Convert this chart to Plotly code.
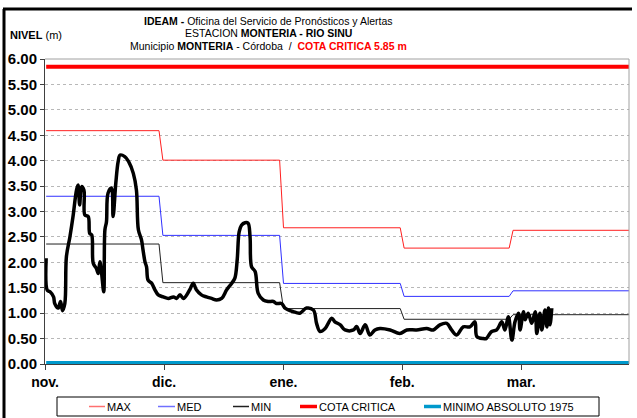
import plotly.graph_objects as go

# ---- data -----------------------------------------------------------------
# days counted from 1 November; monthly statistics (m)
month_labels = ["nov.", "dic.", "ene.", "feb.", "mar."]
month_tick_day = [-0.3, 30.3, 61.0, 91.5, 122.1]
month_first_day = [0, 30, 61, 92, 120]
month_last_day = [29, 60, 91, 119, 150]
nivel_max = [4.59, 4.01, 2.68, 2.28, 2.63]
nivel_med = [3.30, 2.53, 1.585, 1.33, 1.44]
nivel_min = [2.36, 1.60, 1.09, 0.88, 0.97]

cota_critica = 5.85
minimo_absoluto_1975 = 0.02

# observed daily level (day, m)
level_day = [
    0, 0.3, 1, 1.9, 2.2, 3.1, 3.7, 4.2, 4.8, 5.2,
    6.1, 6.9, 7.8, 8.2, 8.6, 9.1, 9.7, 9.95, 10.8, 11.2,
    11.7, 12.1, 12.9, 13.4, 13.8, 14.2, 14.8, 15.1, 15.5, 15.9,
    16.8, 17.2, 17.9, 18.5, 19, 20.2, 21.2, 22.4, 23.2, 23.7,
    24.5, 24.9, 25.4, 25.8, 26.2, 27.1, 27.95, 28.8, 30.1, 31.4,
    32.7, 33.5, 34.4, 35.3, 36.9, 37.8, 38.6, 39.9, 41.2, 42.5,
    43.8, 45.1, 46.4, 47.7, 48.5, 49.1, 49.6, 50.2, 51.1, 51.9,
    52.4, 52.8, 53.7, 54.5, 55.8, 57.1, 58.4, 59.2, 60.5, 61.4,
    63.5, 65.2, 66.9, 68.7, 69.5, 70.4, 71.7, 73.4, 74.2, 75.6,
    76.8, 79, 79.8, 80.7, 82, 83.2, 84.5, 85.8, 88.4, 90.9,
    92.7, 95.2, 97.8, 99.5, 101.2, 102.95, 104.2, 105.5, 107.2, 108.9,
    110.2, 110.7, 112.4, 113.1, 114.5, 115.8, 117.1, 117.9, 118.8, 119.7,
    120.5, 121.4, 121.8, 122.7, 123.1, 123.9, 124.8, 125.7, 126.1, 126.9,
    127.4, 128.2, 128.7, 129.1, 129.5, 129.95,
]
level_m = [
    2.08, 1.45, 1.42, 1.32, 1.19, 1.10, 1.23, 1.05, 1.19, 2.11,
    2.50, 2.90, 3.42, 3.52, 3.13, 3.49, 3.42, 2.93, 2.90, 2.57,
    2.54, 1.98, 1.88, 1.78, 2.01, 1.82, 1.42, 2.64, 2.80, 3.36,
    3.46, 2.90, 3.56, 3.98, 4.11, 4.08, 3.98, 3.75, 3.42, 2.64,
    2.44, 2.24, 2.01, 1.91, 1.65, 1.59, 1.46, 1.36, 1.32, 1.29,
    1.32, 1.29, 1.36, 1.29, 1.46, 1.59, 1.46, 1.36, 1.32, 1.29,
    1.26, 1.29, 1.46, 1.59, 1.69, 2.05, 2.60, 2.73, 2.78, 2.77,
    2.50, 1.91, 1.82, 1.39, 1.26, 1.23, 1.23, 1.19, 1.19, 1.10,
    1.03, 1.00, 1.10, 1.06, 0.80, 0.64, 0.70, 0.90, 0.83, 0.77,
    0.67, 0.67, 0.74, 0.60, 0.77, 0.57, 0.67, 0.70, 0.67, 0.60,
    0.67, 0.67, 0.70, 0.67, 0.77, 0.80, 0.67, 0.57, 0.73, 0.73,
    0.83, 0.54, 0.50, 0.50, 0.64, 0.67, 0.83, 0.67, 0.93, 0.47,
    0.83, 1.00, 0.67, 1.03, 0.87, 1.00, 0.80, 1.03, 0.60, 1.00,
    0.67, 1.06, 0.73, 1.10, 0.77, 1.10,
]

# ---- geometry -------------------------------------------------------------
W, H = 637, 418
PL, PR, PT, PB = 45, 629, 59, 364
X_RANGE = [-0.3, 149.8]


def fx(px):
    return (px - PL) / (PR - PL)


def fy(py):
    return (PB - py) / (PB - PT)


def monthly_steps(values):
    xs, ys = [], []
    for a, b, v in zip(month_first_day, month_last_day, values):
        xs += [a, b]
        ys += [v, v]
    return xs, ys


COLORS = {
    "MAX": "#FF2020",
    "MED": "#3030FF",
    "MIN": "#202020",
    "COTA CRITICA": "#FF0000",
    "MINIMO ABSOLUTO 1975": "#0099CC",
}

fig = go.Figure()

for name, vals in (("MAX", nivel_max), ("MED", nivel_med), ("MIN", nivel_min)):
    sx, sy = monthly_steps(vals)
    fig.add_trace(go.Scatter(x=sx, y=sy, mode="lines", name=name,
                             line=dict(color=COLORS[name], width=1),
                             showlegend=False, hoverinfo="skip"))

full_span = [month_first_day[0], month_last_day[-1]]
fig.add_trace(go.Scatter(x=full_span, y=[cota_critica] * 2, mode="lines",
                         line=dict(color=COLORS["COTA CRITICA"], width=4),
                         showlegend=False))
fig.add_trace(go.Scatter(x=full_span, y=[minimo_absoluto_1975] * 2, mode="lines",
                         line=dict(color=COLORS["MINIMO ABSOLUTO 1975"], width=4),
                         showlegend=False, cliponaxis=False))

fig.add_trace(go.Scatter(x=level_day, y=level_m, mode="lines", name="NIVEL",
                         line=dict(color="#000000", width=3.5, shape="spline",
                                   smoothing=1.0),
                         showlegend=False))

# ---- titles ---------------------------------------------------------------
narrow = "Liberation Sans Narrow, Arial Narrow, Liberation Sans, Arial"
title_lines = [
    "<b>IDEAM - </b>Oficina del Servicio de Pronósticos y Alertas",
    "ESTACION <b>MONTERIA - RIO SINU</b>",
    "Municipio <b>MONTERIA</b> - Córdoba  /  "
    "<span style='color:#FF0000'><b>COTA CRITICA 5.85 m</b></span>",
]
annotations = []
for line, ypx in zip(title_lines, (20.5, 33, 45.5)):
    annotations.append(dict(text=line, x=fx(268), y=fy(ypx), xref="paper", yref="paper",
                            xanchor="center", yanchor="middle", showarrow=False,
                            font=dict(family=narrow, size=10.5, color="#000000")))
annotations.append(dict(text="<b>NIVEL</b> (m)", x=fx(8), y=fy(35), xref="paper",
                        yref="paper", xanchor="left", yanchor="middle", showarrow=False,
                        font=dict(family=narrow, size=11, color="#000000")))

# ---- legend (drawn as a framed row) ---------------------------------------
shapes = [
    dict(type="rect", xref="paper", yref="paper", x0=fx(57), x1=fx(599),
         y0=fy(397), y1=fy(416), line=dict(color="#000000", width=1),
         fillcolor="#FFFFFF"),
    # plot frame top / right
    dict(type="line", xref="paper", yref="paper", x0=0, x1=1, y0=1, y1=1,
         line=dict(color="#A0A0A0", width=1)),
    dict(type="line", xref="paper", yref="paper", x0=1, x1=1, y0=0, y1=1,
         line=dict(color="#A0A0A0", width=1)),
    # page frame
    dict(type="line", xref="paper", yref="paper", x0=fx(3), x1=fx(632),
         y0=fy(9), y1=fy(9), line=dict(color="#000000", width=3)),
    dict(type="line", xref="paper", yref="paper", x0=fx(4), x1=fx(4),
         y0=fy(9), y1=fy(420), line=dict(color="#000000", width=3)),
]
legend_items = [
    ("MAX", 89, 105, 1.5),
    ("MED", 158, 175, 1.5),
    ("MIN", 233, 249, 1.5),
    ("COTA CRITICA", 300, 317, 3.5),
    ("MINIMO ABSOLUTO 1975", 424, 441, 3.5),
]
legend_y = 406.5
for name, x0, x1, w in legend_items:
    color = COLORS[name]
    if name == "MAX":
        color = "#FF7070"
    elif name == "MED":
        color = "#7070FF"
    shapes.append(dict(type="line", xref="paper", yref="paper", x0=fx(x0), x1=fx(x1),
                       y0=fy(legend_y), y1=fy(legend_y), line=dict(color=color, width=w)))
    annotations.append(dict(text=name, x=fx(x1), y=fy(legend_y), xref="paper",
                            yref="paper", xanchor="left", yanchor="middle",
                            showarrow=False,
                            font=dict(family="Liberation Sans, Arial", size=11,
                                      color="#000000")))

fig.update_layout(
    width=W, height=H,
    margin=dict(l=PL, r=W - PR, t=PT, b=H - PB, pad=0),
    paper_bgcolor="#FFFFFF", plot_bgcolor="#FFFFFF",
    showlegend=False,
    annotations=annotations,
    shapes=shapes,
    xaxis=dict(range=X_RANGE, tickmode="array", tickvals=month_tick_day,
               ticktext=month_labels, ticks="outside", ticklen=5,
               tickcolor="#404040", showgrid=False, zeroline=False,
               showline=True, linecolor="#404040",
               tickfont=dict(family="Liberation Sans, Arial", size=14,
                             weight="bold", color="#000000")),
    yaxis=dict(range=[0, 6], dtick=0.5, tickformat=".2f", ticks="outside",
               ticklen=4, tickcolor="#404040", showgrid=True,
               gridcolor="#B8B8B8", griddash="dot", gridwidth=1,
               zeroline=False, showline=True, linecolor="#404040", linewidth=1,
               ticklabelstandoff=0,
               tickfont=dict(family="Liberation Sans, Arial", size=15,
                             weight="bold", color="#000000")),
)

fig.write_html("out.html")
